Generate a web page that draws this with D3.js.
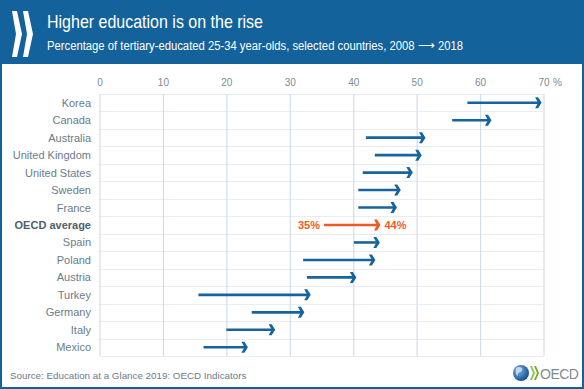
<!DOCTYPE html>
<html>
<head>
<meta charset="utf-8">
<script src="https://cdn.jsdelivr.net/npm/d3@7"></script>
<style>
  body { margin: 0; background: #fff; }
  svg text { font-family: "Liberation Sans", Arial, sans-serif; }
</style>
</head>
<body>
<svg id="chart" width="584" height="389"></svg>
<script>
// data
var countries = ["Korea", "Canada", "Australia", "United Kingdom", "United States", "Sweden", "France",
    "OECD average", "Spain", "Poland", "Austria", "Turkey", "Germany", "Italy", "Mexico"];
var values2008 = [58, 55.6, 42, 43.4, 41.5, 40.8, 40.8, 35.4, 40.1, 32.1, 32.7, 15.6, 24, 20, 16.4];
var values2018 = [69.7, 61.8, 51.4, 50.8, 49.4, 47.5, 46.9, 44.3, 44.2, 43.5, 40.5, 33.3, 32.3, 27.7, 23.4];
var xTicks = [0, 10, 20, 30, 40, 50, 60, 70];
var avgLabels = ["35%", "44%"];

var blue = "#1763a0", orange = "#f15a24", frame = "#14629b";

var svg = d3.select("#chart");

// frame + header band
svg.append("rect").attr("x", 0).attr("y", 0).attr("width", 584).attr("height", 389).attr("fill", frame);
svg.append("rect").attr("x", 2).attr("y", 64).attr("width", 580).attr("height", 323).attr("fill", "#fff");

// header chevrons
var chev = svg.append("g").attr("fill", "#fff");
[12, 23].forEach(function (x0) {
    chev.append("path")
        .attr("d", "M" + x0 + ",11 L" + (x0 + 5) + ",11 L" + (x0 + 10) + ",34 L" + (x0 + 5) + ",57 L" + x0 + ",57 L" + (x0 + 4) + ",34 Z");
});

svg.append("text").attr("x", 47).attr("y", 28)
    .attr("fill", "#fff").attr("font-size", 18.5)
    .attr("textLength", 216).attr("lengthAdjust", "spacingAndGlyphs")
    .text("Higher education is on the rise");
svg.append("text").attr("x", 47).attr("y", 50)
    .attr("fill", "#fff").attr("font-size", 12.5)
    .attr("textLength", 416).attr("lengthAdjust", "spacingAndGlyphs")
    .text("Percentage of tertiary-educated 25-34 year-olds, selected countries, 2008 \u27F6 2018");

// scales
var x = d3.scaleLinear().domain([0, 70]).range([99.5, 543.5]);
var y = d3.scaleBand().domain(countries).range([94, 356]);

// row separators
svg.append("g").selectAll("line")
    .data(countries.slice(1))
    .enter().append("line")
    .attr("x1", x(0)).attr("x2", x(70))
    .attr("y1", function (d) { return Math.round(y(d)) + 0.5; })
    .attr("y2", function (d) { return Math.round(y(d)) + 0.5; })
    .attr("stroke", "#e7edf2").attr("stroke-width", 1);
svg.append("line")
    .attr("x1", x(0)).attr("x2", x(70)).attr("y1", 94.5).attr("y2", 94.5)
    .attr("stroke", "#e7edf2");
svg.append("line")
    .attr("x1", x(0)).attr("x2", x(70)).attr("y1", 356.5).attr("y2", 356.5)
    .attr("stroke", "#e7edf2");

// x axis on top
var xAxis = svg.append("g")
    .attr("transform", "translate(0,94)")
    .call(d3.axisTop(x).tickValues(xTicks).tickSize(-262).tickPadding(8));
xAxis.select(".domain").remove();
xAxis.selectAll(".tick line").attr("stroke", "#d3dde6").attr("stroke-width", 1.2);
xAxis.selectAll(".tick text")
    .attr("fill", "#7a8a98").attr("font-size", 10)
    .style("font-family", "'Liberation Sans', Arial, sans-serif");
svg.append("text").attr("x", 553).attr("y", 85.5)
    .attr("fill", "#7a8a98").attr("font-size", 10).text("%");

// category labels
svg.append("g").selectAll("text")
    .data(countries)
    .enter().append("text")
    .attr("x", 91)
    .attr("y", function (d) { return y(d) + y.bandwidth() / 2 + 4; })
    .attr("text-anchor", "end")
    .attr("font-size", 11)
    .attr("font-weight", function (d) { return d === "OECD average" ? "bold" : "normal"; })
    .attr("fill", function (d) { return d === "OECD average" ? "#4f5f6c" : "#6a7c8b"; })
    .text(function (d) { return d; });

// arrows
var arrows = svg.append("g").selectAll("g")
    .data(countries.map(function (c, i) { return { name: c, v0: values2008[i], v1: values2018[i] }; }))
    .enter().append("g")
    .attr("transform", function (d) { return "translate(0," + (y(d.name) + y.bandwidth() / 2) + ")"; });

arrows.append("line")
    .attr("x1", function (d) { return x(d.v0); })
    .attr("x2", function (d) { return x(d.v1) - 3; })
    .attr("y1", 0).attr("y2", 0)
    .attr("stroke", function (d) { return d.name === "OECD average" ? orange : blue; })
    .attr("stroke-width", 2.6);

arrows.append("path")
    .attr("d", function (d) {
        var t = x(d.v1);
        return "M" + (t - 6.5) + ",-5.5 L" + (t - 3.5) + ",-5.5 L" + t + ",0 L" + (t - 3.5) + ",5.5 L" + (t - 6.5) + ",5.5 L" + (t - 3.5) + ",0 Z";
    })
    .attr("fill", function (d) { return d.name === "OECD average" ? orange : blue; });

// OECD average value labels
var avg = countries.indexOf("OECD average");
var yAvg = y("OECD average") + y.bandwidth() / 2 + 4;
svg.append("text").attr("x", x(values2008[avg]) - 4).attr("y", yAvg)
    .attr("text-anchor", "end").attr("font-size", 11).attr("font-weight", "bold")
    .attr("fill", orange).text(avgLabels[0]);
svg.append("text").attr("x", x(values2018[avg]) + 4).attr("y", yAvg)
    .attr("font-size", 11).attr("font-weight", "bold")
    .attr("fill", orange).text(avgLabels[1]);

// source
svg.append("text").attr("x", 10).attr("y", 379)
    .attr("fill", "#6a7c8b").attr("font-size", 9.8)
    .text("Source: Education at a Glance 2019: OECD Indicators");

// OECD logo
var logo = svg.append("g");
var grad = svg.append("defs").append("radialGradient").attr("id", "globe")
    .attr("cx", "35%").attr("cy", "35%").attr("r", "70%");
grad.append("stop").attr("offset", "0%").attr("stop-color", "#7fb2dd");
grad.append("stop").attr("offset", "100%").attr("stop-color", "#0f4f8f");
logo.append("circle").attr("cx", 521).attr("cy", 373).attr("r", 8).attr("fill", "url(#globe)");
logo.append("path").attr("d", "M516,368 q3,-2 6,0 q1,3 -2,4 q-3,1 -2,4 q-3,-1 -2,-8 Z").attr("fill", "#d6e6f3").attr("opacity", 0.8);
[530, 534].forEach(function (x0, i) {
    logo.append("path")
        .attr("d", "M" + x0 + ",366 L" + (x0 + 2) + ",366 L" + (x0 + 5) + ",373 L" + (x0 + 2) + ",380 L" + x0 + ",380 L" + (x0 + 3) + ",373 Z")
        .attr("fill", i === 0 ? "#8dc63f" : "#6fae2f");
});
logo.append("text").attr("x", 540).attr("y", 378.5)
    .attr("fill", "#808a92").attr("font-size", 14).attr("letter-spacing", -0.5)
    .text("OECD");
</script>
</body>
</html>
